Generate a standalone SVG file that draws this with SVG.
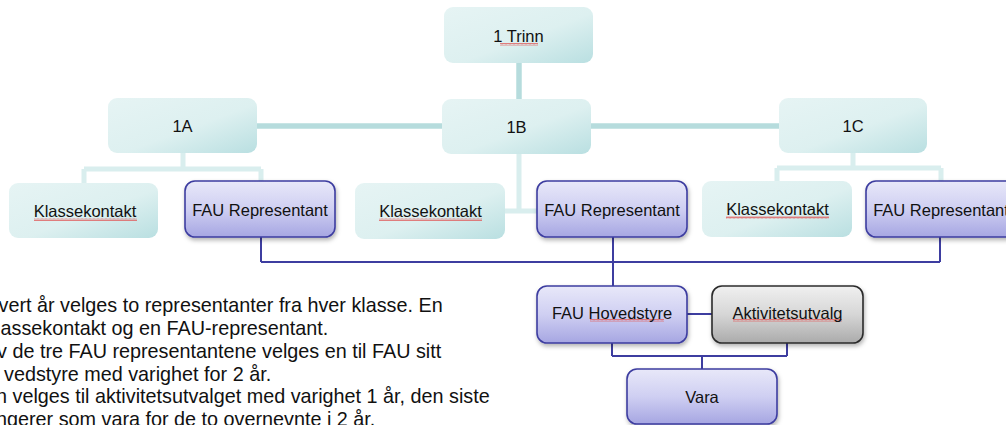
<svg xmlns="http://www.w3.org/2000/svg" width="1006" height="425" viewBox="0 0 1006 425">
<style>
  text { font-family: "Liberation Sans", Arial, sans-serif; fill: #111; }
  .lbl { font-size: 16.5px; text-anchor: middle; }
  .note { font-size: 19.8px; }
  .teal { fill: url(#gTeal); stroke: none; }
  .purple { fill: url(#gPurple); stroke: #3d3da0; stroke-width: 1.6; filter: url(#shadow); }
  .gray { fill: url(#gGray); stroke: #2b2b2b; stroke-width: 1.6; filter: url(#shadow); }
  .tmain { stroke: #b6dcdd; stroke-width: 5.5; fill: none; }
  .tsub { stroke: #d9eeee; stroke-width: 5; fill: none; }
  .pline { stroke: #3d3da0; stroke-width: 2; fill: none; }
  .squig { fill: url(#squiggle); }
</style>
<defs>
  <linearGradient id="gTeal" x1="0" y1="0" x2="1" y2="1">
    <stop offset="0" stop-color="#e6f4f4"/>
    <stop offset="0.55" stop-color="#ddf0f0"/>
    <stop offset="1" stop-color="#b9dfe1"/>
  </linearGradient>
  <linearGradient id="gPurple" x1="0" y1="0" x2="0" y2="1">
    <stop offset="0" stop-color="#e8e8f9"/>
    <stop offset="0.5" stop-color="#cfcff2"/>
    <stop offset="1" stop-color="#a6a6e2"/>
  </linearGradient>
  <linearGradient id="gGray" x1="0" y1="0" x2="0" y2="1">
    <stop offset="0" stop-color="#f0f0f0"/>
    <stop offset="0.5" stop-color="#d6d6d6"/>
    <stop offset="1" stop-color="#ababab"/>
  </linearGradient>
  <filter id="shadow" x="-10%" y="-10%" width="125%" height="135%">
    <feDropShadow dx="1" dy="2.5" stdDeviation="2" flood-color="#000" flood-opacity="0.3"/>
  </filter>
  <pattern id="squiggle" width="4" height="3" patternUnits="userSpaceOnUse">
    <path d="M0,2.5 L1,0.5 L2,2.5 L3,0.5 L4,2.5" stroke="#e06060" stroke-width="0.8" fill="none"/>
  </pattern>
</defs>

<g id="connectors">
  <line class="tmain" x1="519" y1="63" x2="519" y2="100"/>
  <line class="tmain" x1="257" y1="126" x2="779" y2="126"/>
  <path class="tsub" d="M183,153 V169 M84,169 H261 M84,169 V184 M261,169 V182"/>
  <path class="tsub" d="M519,154 V211 M505,211 H538"/>
  <path class="tsub" d="M853,153 V168 M777,168 H941 M777,168 V182 M941,168 V182"/>
  <path class="pline" d="M261,237 V262 M940,237 V262 M261,262 H940 M613,237 V286"/>
  <path class="pline" d="M687,314 H712"/>
  <path class="pline" d="M612,343 V356 M787,343 V356 M612,356 H787 M702,356 V369"/>
</g>

<g id="n-1trinn">
  <rect class="teal" x="444" y="7" width="149" height="56" rx="9"/>
  <rect class="squig" x="500" y="43" width="38" height="3"/>
  <text class="lbl" x="518.5" y="42">1 Trinn</text>
</g>
<g id="n-1a">
  <rect class="teal" x="108" y="98" width="149" height="55" rx="9"/>
  <text class="lbl" x="182.5" y="132">1A</text>
</g>
<g id="n-1b">
  <rect class="teal" x="442" y="99" width="149" height="55" rx="9"/>
  <text class="lbl" x="516.5" y="133">1B</text>
</g>
<g id="n-1c">
  <rect class="teal" x="779" y="98" width="148" height="55" rx="9"/>
  <text class="lbl" x="853" y="132">1C</text>
</g>

<g id="n-klasse-a">
  <rect class="teal" x="9" y="183" width="149" height="55" rx="9"/>
  <rect class="squig" x="34" y="218" width="103" height="3"/>
  <text class="lbl" x="85" y="217">Klassekontakt</text>
</g>
<g id="n-fau-a">
  <rect class="purple" x="185" y="181" width="150" height="56" rx="10"/>
  <text class="lbl" x="260" y="216">FAU Representant</text>
</g>
<g id="n-klasse-b">
  <rect class="teal" x="355" y="183" width="150" height="56" rx="9"/>
  <rect class="squig" x="379" y="218" width="103" height="3"/>
  <text class="lbl" x="430.5" y="217">Klassekontakt</text>
</g>
<g id="n-fau-b">
  <rect class="purple" x="537" y="181" width="150" height="56" rx="10"/>
  <text class="lbl" x="612" y="216">FAU Representant</text>
</g>
<g id="n-klasse-c">
  <rect class="teal" x="702" y="181" width="150" height="56" rx="9"/>
  <rect class="squig" x="726" y="216" width="103" height="3"/>
  <text class="lbl" x="777.5" y="215">Klassekontakt</text>
</g>
<g id="n-fau-c">
  <rect class="purple" x="866" y="181" width="150" height="56" rx="10"/>
  <text class="lbl" x="941" y="216">FAU Representant</text>
</g>

<g id="n-hovedstyre">
  <rect class="purple" x="537" y="286" width="150" height="57" rx="10"/>
  <rect class="squig" x="590" y="319" width="74" height="3"/>
  <text class="lbl" x="612" y="319">FAU Hovedstyre</text>
</g>
<g id="n-aktivitet">
  <rect class="gray" x="712" y="286" width="151" height="57" rx="10"/>
  <rect class="squig" x="733" y="319" width="109" height="3"/>
  <text class="lbl" x="787.5" y="319">Aktivitetsutvalg</text>
</g>
<g id="n-vara">
  <rect class="purple" x="627" y="369" width="150" height="55" rx="10"/>
  <text class="lbl" x="702" y="403">Vara</text>
</g>

<g id="notes">
  <text class="note" x="-1.5" y="312">vert år velges to representanter fra hver klasse. En</text>
  <text class="note" x="0.5" y="335">assekontakt og en FAU-representant.</text>
  <text class="note" x="-3" y="358">v de tre FAU representantene velges en til FAU sitt</text>
  <text class="note" x="4" y="381">vedstyre med varighet for 2 år.</text>
  <text class="note" x="-4" y="403">n velges til aktivitetsutvalget med varighet 1 år, den siste</text>
  <text class="note" x="-4" y="426">ngerer som vara for de to overnevnte i 2 år.</text>
</g>
</svg>
